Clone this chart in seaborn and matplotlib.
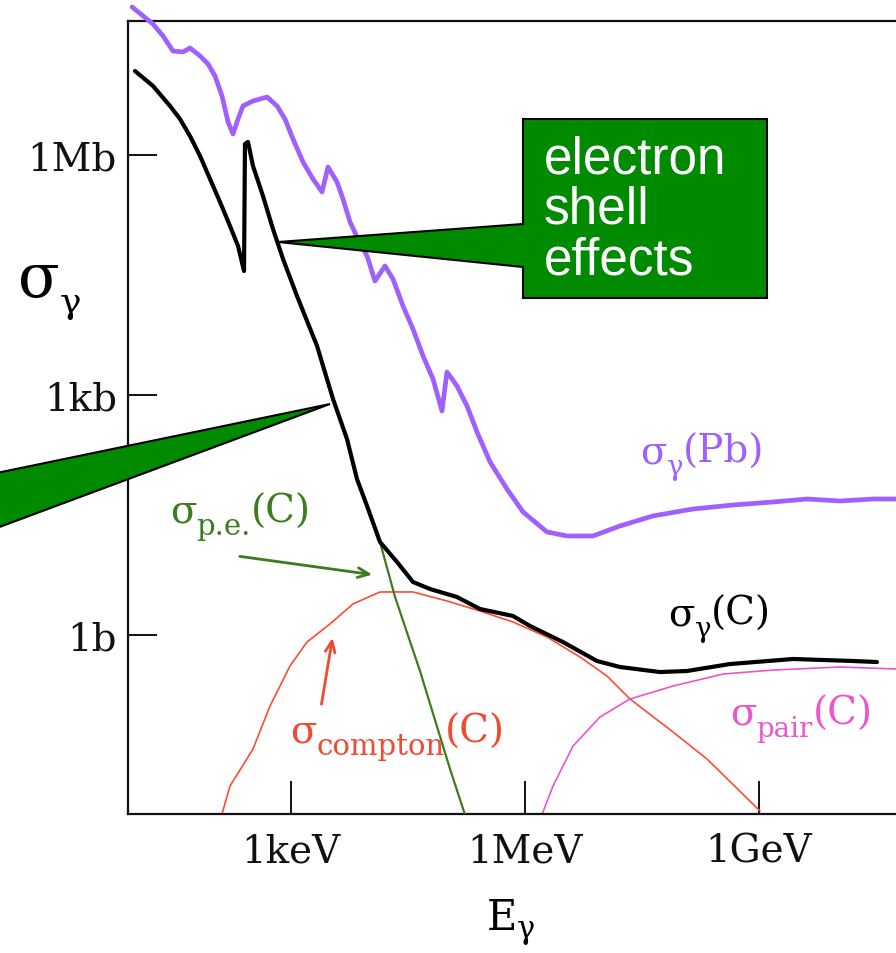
import numpy as np
import pandas as pd
import matplotlib
matplotlib.use("Agg")
import matplotlib.pyplot as plt
import seaborn as sns
from matplotlib.patches import Polygon

# ---------------- data (log10 of E/eV and log10 of sigma/barn) ----------------
pb_logE = [0.966, 1.235, 1.363, 1.491, 1.620, 1.709, 1.838, 1.940, 2.030, 2.120, 2.197, 2.261,
           2.325, 2.389, 2.517, 2.697, 2.825, 2.927, 3.030, 3.158, 3.286, 3.402, 3.479, 3.594,
           3.671, 3.761, 3.863, 3.979, 4.081, 4.209, 4.312, 4.440, 4.568, 4.697, 4.825, 4.940,
           5.004, 5.132, 5.261, 5.389, 5.556, 5.773, 5.979, 6.286, 6.543, 6.876, 7.222, 7.645,
           8.158, 8.671, 9.184, 9.620, 10.043, 10.466, 10.940]
pb_logS = [7.85, 7.638, 7.488, 7.30, 7.288, 7.338, 7.238, 7.138, 6.988, 6.738, 6.413, 6.263,
           6.45, 6.613, 6.675, 6.725, 6.613, 6.45, 6.20, 5.913, 5.70, 5.538, 5.85, 5.663,
           5.45, 5.163, 4.95, 4.738, 4.425, 4.613, 4.45, 4.113, 3.825, 3.488, 3.20, 2.80,
           3.288, 3.113, 2.863, 2.538, 2.163, 1.825, 1.538, 1.288, 1.238, 1.238, 1.363, 1.488,
           1.575, 1.625, 1.663, 1.70, 1.675, 1.70, 1.70]

c_logE = [1.004, 1.235, 1.453, 1.581, 1.709, 1.838, 1.966, 2.094, 2.222, 2.325, 2.402, 2.414,
          2.453, 2.517, 2.645, 2.773, 2.902, 3.081, 3.338, 3.543, 3.722, 3.850, 3.979, 4.145,
          4.363, 4.568, 4.786, 5.132, 5.427, 5.850, 6.068, 6.491, 6.927, 7.222, 7.735, 8.081,
          8.632, 9.440, 10.209, 10.517]
c_logS = [7.05, 6.863, 6.613, 6.45, 6.238, 5.988, 5.70, 5.413, 5.113, 4.863, 4.55, 6.138,
          6.163, 5.863, 5.488, 5.075, 4.70, 4.238, 3.613, 2.95, 2.45, 1.95, 1.613, 1.163,
          0.913, 0.663, 0.575, 0.475, 0.325, 0.238, 0.113, -0.088, -0.325, -0.40, -0.463, -0.45,
          -0.363, -0.30, -0.325, -0.338]

pe_logE = [1.004, 1.235, 1.453, 1.581, 1.709, 1.838, 1.966, 2.094, 2.222, 2.325, 2.402, 2.414,
           2.453, 2.517, 2.645, 2.773, 2.902, 3.081, 3.338, 3.543, 3.722, 3.850, 3.979, 4.145,
           4.338, 4.658, 5.043, 5.274]
pe_logS = [7.05, 6.863, 6.613, 6.45, 6.238, 5.988, 5.70, 5.413, 5.113, 4.863, 4.55, 6.138,
           6.163, 5.863, 5.488, 5.075, 4.70, 4.238, 3.613, 2.95, 2.45, 1.95, 1.613, 1.163,
           0.475, -0.45, -1.675, -2.363]

co_logE = [2.094, 2.222, 2.517, 2.735, 2.991, 3.209, 3.504, 3.799, 4.145, 4.568, 5.004, 5.427,
           5.850, 6.286, 6.709, 7.056, 7.350, 7.902, 8.338, 9.017]
co_logS = [-2.325, -1.888, -1.425, -0.888, -0.388, -0.088, 0.138, 0.388, 0.538, 0.538, 0.425, 0.30,
           0.163, -0.025, -0.275, -0.513, -0.80, -1.213, -1.55, -2.20]

pair_logE = [6.209, 6.235, 6.363, 6.620, 6.966, 7.350, 7.902, 8.543, 9.184, 10.043, 10.761, 10.940]
pair_logS = [-2.325, -2.213, -1.888, -1.388, -1.025, -0.80, -0.638, -0.488, -0.438, -0.40, -0.425, -0.425]

xtick_vals = [1e3, 1e6, 1e9]
xtick_labels = ["1keV", "1MeV", "1GeV"]
ytick_vals = [1.0, 1e3, 1e6]
ytick_labels = ["1b", "1kb", "1Mb"]

# ---------------- figure ----------------
W, H = 896, 954
sns.set_style("ticks")
plt.rcParams["font.family"] = ["DejaVu Serif", "DejaVu Sans"]
SERIF = "DejaVu Serif"

fig = plt.figure(figsize=(W / 100, H / 100), dpi=100)
ax_left, ax_right, ax_top, ax_bot = 128, 910, 22, 815
ax = fig.add_axes([ax_left / W, 1 - ax_bot / H, (ax_right - ax_left) / W, (ax_bot - ax_top) / H])
ax.set_xscale("log")
ax.set_yscale("log")

def px_to_logx(p):
    return 6 + (p - 524.67) / 78.0

def px_to_logy(p):
    return 3 - (p - 396.0) / 80.0

ax.set_xlim(10 ** px_to_logx(ax_left), 10 ** px_to_logx(ax_right))
ax.set_ylim(10 ** px_to_logy(ax_bot), 10 ** px_to_logy(ax_top))


def frame(name, le, ls):
    return pd.DataFrame({"E": np.power(10.0, le), "sigma": np.power(10.0, ls), "curve": name})

df = pd.concat([frame("Pb", pb_logE, pb_logS), frame("C", c_logE, c_logS),
                frame("pe", pe_logE, pe_logS), frame("compton", co_logE, co_logS),
                frame("pair", pair_logE, pair_logS)], ignore_index=True)

PURPLE = "#a060ff"
GREEN = "#3c7c1c"
RED = "#ff4a35"
MAGENTA = "#ee55cc"

styles = [("Pb", PURPLE, 3.4, False, 3),
          ("compton", RED, 1.2, True, 2),
          ("pair", MAGENTA, 1.2, True, 2),
          ("pe", GREEN, 1.6, True, 3),
          ("C", "black", 3.0, True, 4)]
for name, col, lw, clip, z in styles:
    n_before = len(ax.lines)
    sns.lineplot(data=df[df.curve == name], x="E", y="sigma", sort=False, estimator=None,
                 color=col, linewidth=lw, ax=ax, legend=False)
    for ln in ax.lines[n_before:]:
        ln.set_clip_on(clip)
        ln.set_zorder(z)
        ln.set_solid_joinstyle("round")

# axes styling
for side in ["left", "top", "bottom", "right"]:
    ax.spines[side].set_visible(True)
    ax.spines[side].set_linewidth(1.6)
    ax.spines[side].set_color("#111111")
ax.minorticks_off()
ax.set_xticks(xtick_vals, xtick_labels)
ax.set_yticks(ytick_vals, ytick_labels)
ax.tick_params(axis="x", direction="in", length=24, width=1.4, pad=13, labelsize=28,
               colors="#111111", top=False)
ax.tick_params(axis="y", direction="in", length=21, width=1.4, pad=8, labelsize=28,
               colors="#111111", right=False)
for lab in ax.get_xticklabels() + ax.get_yticklabels():
    lab.set_family(SERIF)
ax.set_xlabel("")
ax.set_ylabel("")


def P(x, y):
    return (x / W, 1 - y / H)


def sub_label(x, y, main, sub, tail, color, size, subsize, drop=7, gap=0, tail_gap=0):
    t1 = fig.text(*P(x, y), main, color=color, fontsize=size, family=SERIF,
                  ha="left", va="baseline", zorder=8)
    t2 = ax.annotate(sub, xy=(1, 0), xycoords=t1, xytext=(gap, -drop), textcoords="offset points",
                     color=color, fontsize=subsize, family=SERIF, ha="left", va="bottom",
                     annotation_clip=False, zorder=8)
    if tail:
        ax.annotate(tail, xy=(1, 0), xycoords=(t2, t1), xytext=(tail_gap, 0),
                    textcoords="offset points", color=color, fontsize=size, family=SERIF,
                    ha="left", va="bottom", annotation_clip=False, zorder=8)


# axis titles
sub_label(18, 297, "σ", "γ", None, "black", 44, 26, drop=7)
sub_label(487, 930, "E", "γ", None, "black", 30, 22, drop=4, gap=0)

# curve labels
sub_label(640, 463, "σ", "γ", "(Pb)", PURPLE, 28, 20, drop=7, tail_gap=0)
sub_label(668, 625, "σ", "γ", "(C)", "black", 28, 20, drop=7, tail_gap=0)
sub_label(170, 523, "σ", "p.e.", "(C)", GREEN, 28, 21, drop=7)
sub_label(290, 743, "σ", "compton", "(C)", "#f04a30", 28, 21, drop=7)
sub_label(730, 725, "σ", "pair", "(C)", MAGENTA, 28, 20, drop=7)

# arrows for labels
ax.annotate("", xy=P(375, 576), xycoords="figure fraction", xytext=P(237, 557),
            textcoords="figure fraction",
            arrowprops=dict(arrowstyle="->,head_length=0.8,head_width=0.35", color=GREEN, lw=2.0))
ax.annotate("", xy=P(333, 636), xycoords="figure fraction", xytext=P(321, 708),
            textcoords="figure fraction",
            arrowprops=dict(arrowstyle="->,head_length=0.8,head_width=0.35", color="#f04a30", lw=2.0))

# callouts
BOXGREEN = "#008a00"
callout1 = [(523, 120), (767, 120), (767, 299), (523, 299), (523, 268), (278, 243), (523, 225)]
fig.add_artist(Polygon([P(*p) for p in callout1], closed=True, transform=fig.transFigure,
                       facecolor=BOXGREEN, edgecolor="black", linewidth=1.5, zorder=10))
callout2 = [(330, 405), (-100, 494), (-100, 565)]
fig.add_artist(Polygon([P(*p) for p in callout2], closed=True, transform=fig.transFigure,
                       facecolor=BOXGREEN, edgecolor="black", linewidth=1.5, zorder=10))
fig.text(*P(544, 135), "electron\nshell\neffects", color="white", fontsize=37,
         family=["Liberation Sans", "DejaVu Sans"], ha="left", va="top", linespacing=1.05, zorder=11)

fig.savefig("out.png", dpi=100)
